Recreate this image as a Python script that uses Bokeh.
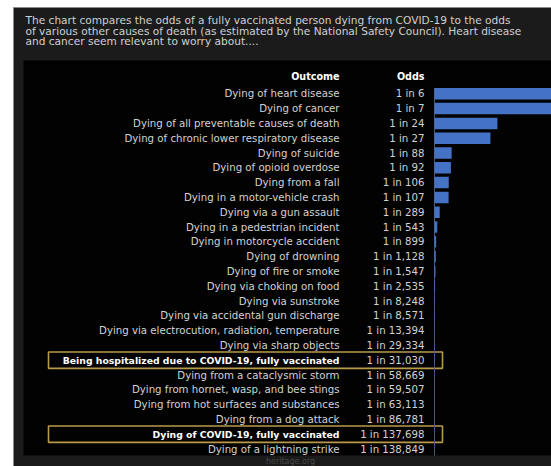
from bokeh.plotting import figure
from bokeh.models import Range1d, ColumnDataSource
from bokeh.core.properties import value
from bokeh.embed import file_html
from bokeh.resources import INLINE

outcomes = [
    "Dying of heart disease",
    "Dying of cancer",
    "Dying of all preventable causes of death",
    "Dying of chronic lower respiratory disease",
    "Dying of suicide",
    "Dying of opioid overdose",
    "Dying from a fall",
    "Dying in a motor-vehicle crash",
    "Dying via a gun assault",
    "Dying in a pedestrian incident",
    "Dying in motorcycle accident",
    "Dying of drowning",
    "Dying of fire or smoke",
    "Dying via choking on food",
    "Dying via sunstroke",
    "Dying via accidental gun discharge",
    "Dying via electrocution, radiation, temperature",
    "Dying via sharp objects",
    "Being hospitalized due to COVID-19, fully vaccinated",
    "Dying from a cataclysmic storm",
    "Dying from hornet, wasp, and bee stings",
    "Dying from hot surfaces and substances",
    "Dying from a dog attack",
    "Dying of COVID-19, fully vaccinated",
    "Dying of a lightning strike",
]
odds = [6, 7, 24, 27, 88, 92, 106, 107, 289, 543, 899, 1128, 1547, 2535,
        8248, 8571, 13394, 29334, 31030, 58669, 59507, 63113, 86781,
        137698, 138849]
highlighted = [
    "Being hospitalized due to COVID-19, fully vaccinated",
    "Dying of COVID-19, fully vaccinated",
]
header_cols = ["Outcome", "Odds"]
note_lines = [
    "The chart compares the odds of a fully vaccinated person dying from COVID-19 to the odds",
    "of various other causes of death (as estimated by the National Safety Council). Heart disease",
    "and cancer seem relevant to worry about....",
]
credit = "heritage.org"

FONT = value("DejaVu Sans")
W, H = 551, 466
ROW0, ROWH = 93.3, 14.8
BAR_X0, BAR_SCALE = 434, 1510

rows = list(range(len(outcomes)))
odds_text = [f"1 in {o:,}" for o in odds]
prob = [1.0 / o for o in odds]
is_hl = [o in highlighted for o in outcomes]

p = figure(width=W, height=H, output_backend="svg", toolbar_location=None,
           x_range=Range1d(0, W), y_range=Range1d(H, 0), min_border=0,
           x_axis_type=None, y_axis_type=None,
           background_fill_color="white", border_fill_color="white",
           outline_line_color=None)
p.grid.visible = False
p.extra_x_ranges = {"bars": Range1d(-BAR_X0 / BAR_SCALE, (W - BAR_X0) / BAR_SCALE)}
p.extra_y_ranges = {"rows": Range1d((H - ROW0) / ROWH, -ROW0 / ROWH)}

# backgrounds
p.quad(left=[13], right=[W + 2], top=[7], bottom=[H + 2], fill_color="#1b1b1b",
       line_color="#8a8a8a", line_width=1)
p.quad(left=[23], right=[W + 2], top=[60], bottom=[455], fill_color="#020202",
       line_color=None)

# note text
p.text(x=[25] * len(note_lines), y=[19.5 + 10.5 * i for i in range(len(note_lines))],
       text=note_lines, text_font=FONT, text_font_size="10.6px",
       text_color="#d0d0d0", text_baseline="middle", text_align="left")

# table headers
p.text(x=[339, 424], y=[-1.15, -1.15], text=header_cols, y_range_name="rows",
       text_font=FONT, text_font_size="9.6px", text_font_style="bold",
       text_color="#ffffff", text_baseline="middle", text_align="right")

norm = ColumnDataSource(dict(
    y=[r for r, h in zip(rows, is_hl) if not h],
    label=[o for o, h in zip(outcomes, is_hl) if not h],
    odds=[t for t, h in zip(odds_text, is_hl) if not h],
))
hl = ColumnDataSource(dict(
    y=[r for r, h in zip(rows, is_hl) if h],
    label=[o for o, h in zip(outcomes, is_hl) if h],
    odds=[t for t, h in zip(odds_text, is_hl) if h],
))

# highlight boxes
p.rect(x=245, y="y", width=394, height=1.1, source=hl, y_range_name="rows",
       fill_color=None, line_color="#b89a4a", line_width=1.6)

p.text(x=339, y="y", text="label", source=norm, y_range_name="rows",
       text_font=FONT, text_font_size="10.2px", text_color="#d2d2d2",
       text_baseline="middle", text_align="right")
p.text(x=339, y="y", text="label", source=hl, y_range_name="rows",
       text_font=FONT, text_font_size="9.3px", text_font_style="bold",
       text_color="#ffffff", text_baseline="middle", text_align="right")
p.text(x=424, y="y", text="odds", source=norm, y_range_name="rows",
       text_font=FONT, text_font_size="10.2px", text_color="#d2d2d2",
       text_baseline="middle", text_align="right")
p.text(x=424, y="y", text="odds", source=hl, y_range_name="rows",
       text_font=FONT, text_font_size="10.2px", text_color="#d2d2d2",
       text_baseline="middle", text_align="right")

# bars
p.segment(x0=[0], x1=[0], y0=[rows[0] - 0.4], y1=[rows[-1] + 0.45],
          x_range_name="bars", y_range_name="rows", line_color="#4a5878", line_width=1)
p.hbar(y=rows, left=0, right=prob, height=0.78, x_range_name="bars",
       y_range_name="rows", fill_color="#4472c4", line_color=None)

# credit
p.text(x=[290], y=[461], text=[credit], text_font=FONT, text_font_size="8px",
       text_color="#484848", text_baseline="middle", text_align="center")

open("out.html", "w").write(file_html(p, INLINE))
